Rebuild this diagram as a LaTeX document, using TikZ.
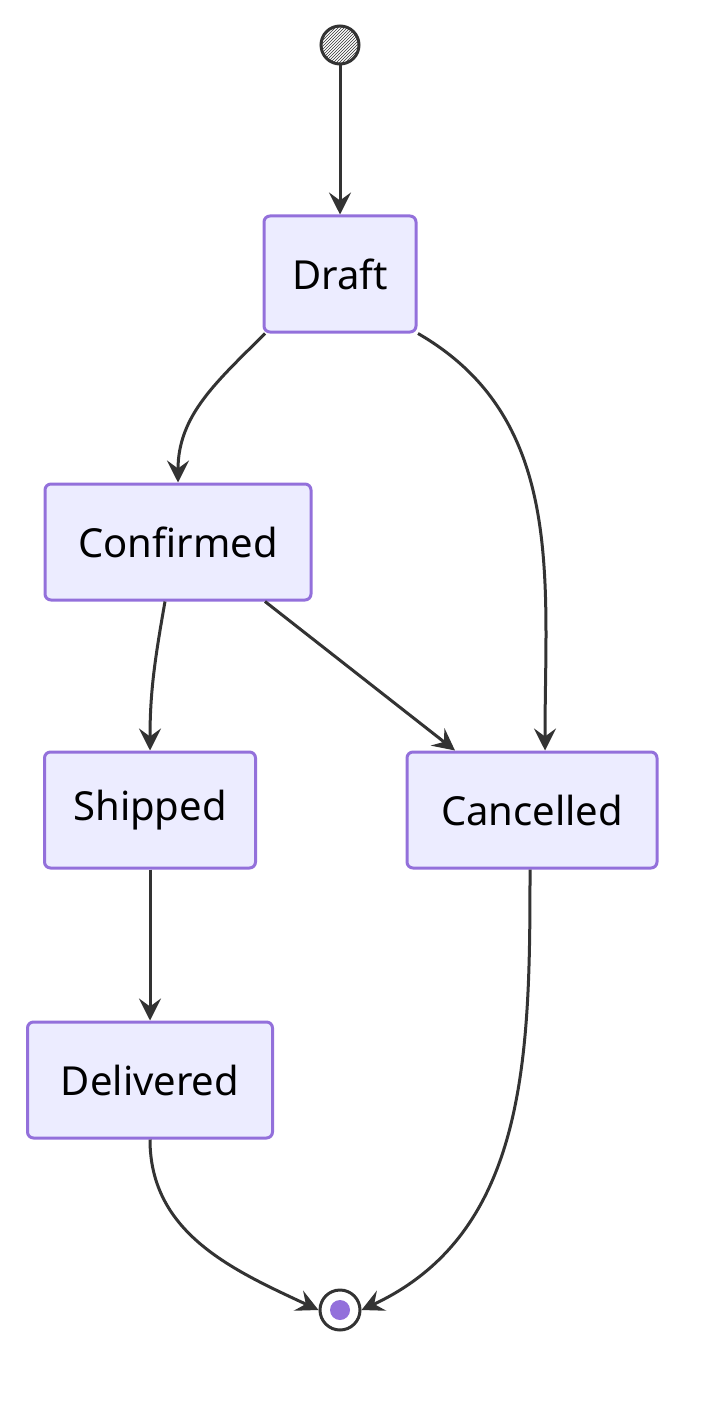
\documentclass[tikz,border=0pt]{standalone}
\usepackage{fontspec}
\setmainfont{Noto Sans}
\usetikzlibrary{arrows.meta,patterns}
\definecolor{stfill}{HTML}{ECECFF}
\definecolor{stline}{HTML}{9370DB}
\definecolor{edge}{HTML}{333333}
\tikzset{
  state/.style={draw=stline,fill=stfill,line width=3pt,rounded corners=6pt,
    minimum height=116pt,font=\fontsize{40}{46}\selectfont,inner sep=0pt},
  trans/.style={draw=edge,line width=3pt,-{Stealth[length=22pt,width=22pt,inset=8pt]}}
}
\begin{document}
\begin{tikzpicture}[x=1pt,y=-1pt]
  \useasboundingbox (0,0) rectangle (705,1404);
  % start and end
  \node[circle,draw=edge,line width=3pt,minimum size=38pt,inner sep=0pt,
    pattern=north east lines,pattern color=edge] (start) at (340,45) {};
  \node[circle,draw=edge,fill=white,line width=3pt,minimum size=40pt,inner sep=0pt] (end) at (340,1310) {};
  \fill[stline] (end) circle (10pt);
  % states
  \node[state,minimum width=152pt] (draft) at (340,274) {Draft};
  \node[state,minimum width=266pt] (confirmed) at (178,542) {Confirmed};
  \node[state,minimum width=211pt] (shipped) at (150,810) {Shipped};
  \node[state,minimum width=250pt] (cancelled) at (532,810) {Cancelled};
  \node[state,minimum width=245pt] (delivered) at (150,1080) {Delivered};
  % transitions
  \draw[trans] (start) -- (draft);
  \draw[trans] ([xshift=-75pt]draft.south) to[out=-135,in=90] ([xshift=0pt]confirmed.north);
  \draw[trans] ([xshift=78pt]draft.south) to[out=-30,in=90] ([xshift=13pt]cancelled.north);
  \draw[trans] ([xshift=-13pt]confirmed.south) to[out=-100,in=90] (shipped.north);
  \draw[trans] ([xshift=87pt]confirmed.south) -- ([xshift=-77pt]cancelled.north);
  \draw[trans] (shipped) -- (delivered);
  \draw[trans] (delivered.south) to[out=-90,in=155] (end.west);
  \draw[trans] ([xshift=-2pt]cancelled.south) to[out=-90,in=25] (end.east);
\end{tikzpicture}
\end{document}
